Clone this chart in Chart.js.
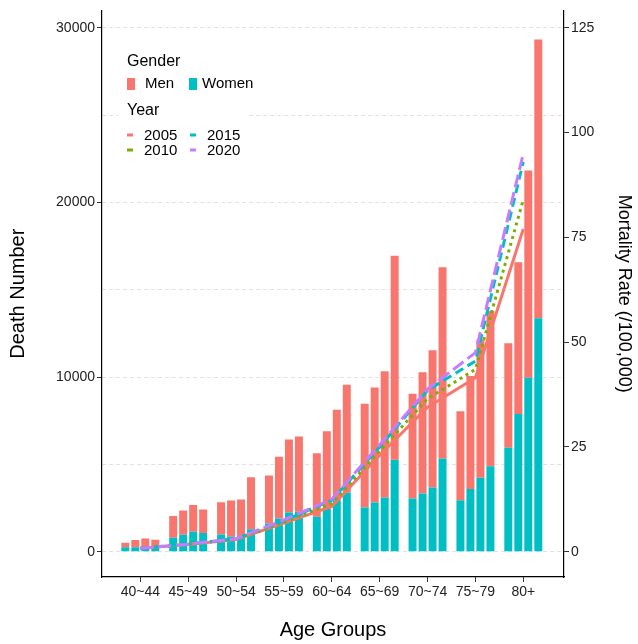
<!DOCTYPE html>
<html>
<head>
<meta charset="utf-8">
<script src="https://cdn.jsdelivr.net/npm/chart.js@4"></script>
<style>
html,body{margin:0;padding:0;background:#fff;}
#wrap{width:638px;height:644px;}
</style>
</head>
<body>
<div id="wrap"><canvas id="c" width="638" height="644"></canvas></div>
<script>
const ageGroups = ['40~44','45~49','50~54','55~59','60~64','65~69','70~74','75~79','80+'];
const years = ['2005','2010','2015','2020'];

const women2005 = [250, 800, 990, 1620, 2000, 2530, 3050, 2950, 5950];
const women2010 = [250, 970, 860, 1900, 2440, 2820, 3330, 3590, 7890];
const women2015 = [200, 1140, 900, 2250, 2910, 3100, 3670, 4240, 9960];
const women2020 = [230, 1070, 1280, 2280, 3390, 5260, 5330, 4890, 13370];

const men2005 = [260, 1240, 1840, 2750, 3640, 5940, 6000, 5090, 5990];
const men2010 = [420, 1390, 2070, 3540, 4460, 6590, 6940, 6470, 8690];
const men2015 = [560, 1540, 2090, 4170, 5220, 7230, 7860, 7910, 11870];
const men2020 = [450, 1350, 2980, 4320, 6170, 11690, 10960, 8900, 15960];

const rate2005 = [0.8, 1.7, 2.9, 6.8, 10.8, 23.0, 34.5, 41.5, 77.0];
const rate2010 = [0.8, 1.8, 3.0, 7.0, 11.5, 24.0, 36.5, 43.5, 84.0];
const rate2015 = [0.8, 1.8, 3.1, 7.4, 12.3, 25.0, 38.5, 45.5, 93.0];
const rate2020 = [0.8, 1.8, 3.1, 7.6, 12.5, 25.5, 38.8, 47.5, 95.0];

const leftTicks = [0, 5000, 10000, 15000, 20000, 25000, 30000];
const rightTicks = [0, 25, 50, 75, 100, 125];

const MEN = '#F8766D', WOMEN = '#00BFC4';
const lineColors = ['#F8766D', '#7CAE00', '#00BFC4', '#C77CFF'];
const lineDashes = [[], [3, 4], [9, 5], [13, 5]];
const FONT = "'Liberation Sans', Arial, sans-serif";

const womenAll = [women2005, women2010, women2015, women2020];
const menAll = [men2005, men2010, men2015, men2020];
const rateAll = [rate2005, rate2010, rate2015, rate2020];

const toXY = arr => arr.map((v, i) => ({x: i, y: v}));

const datasets = [];
for (let k = 3; k >= 0; k--) {
  datasets.push({
    type: 'line', label: years[k], data: toXY(rateAll[k]), yAxisID: 'y1', xAxisID: 'x',
    borderColor: lineColors[k], borderWidth: 3, borderDash: lineDashes[k], borderCapStyle: 'butt',
    pointRadius: 0, tension: 0, fill: false, order: 3 - k
  });
}
for (let k = 0; k < 4; k++) {
  datasets.push({
    type: 'bar', label: 'Women ' + years[k], data: toXY(womenAll[k]), stack: 's' + years[k],
    backgroundColor: WOMEN, borderWidth: 0, yAxisID: 'y', order: 10,
    categoryPercentage: 0.835, barPercentage: 0.8
  });
  datasets.push({
    type: 'bar', label: 'Men ' + years[k], data: toXY(menAll[k]), stack: 's' + years[k],
    backgroundColor: MEN, borderWidth: 0, yAxisID: 'y', order: 10,
    categoryPercentage: 0.835, barPercentage: 0.8
  });
}

const legendPlugin = {
  id: 'customLegend',
  afterDraw(chart) {
    const ctx = chart.ctx;
    ctx.save();
    ctx.fillStyle = '#fff';
    ctx.fillRect(118, 45, 144, 52);
    ctx.fillRect(118, 97, 130, 63);
    ctx.fillStyle = '#000';
    ctx.textBaseline = 'middle';
    ctx.textAlign = 'left';
    ctx.font = '16px ' + FONT;
    ctx.fillText('Gender', 127, 62);
    ctx.fillText('Year', 127, 111);
    ctx.font = '15px ' + FONT;
    ctx.fillStyle = MEN; ctx.fillRect(127, 78, 8, 12);
    ctx.fillStyle = WOMEN; ctx.fillRect(189, 78, 8, 12);
    ctx.fillStyle = '#000';
    ctx.fillText('Men', 145, 84);
    ctx.fillText('Women', 202, 84);
    const pos = [[127, 135], [127, 150], [190, 135], [190, 150]];
    for (let k = 0; k < 4; k++) {
      const [x, y] = pos[k];
      ctx.fillStyle = lineColors[k];
      ctx.fillRect(x, y - 1.5, 6, 3);
      ctx.fillStyle = '#000';
      ctx.fillText(years[k], x + 17, y + 0.5);
    }
    ctx.restore();
  }
};

const isIdx = v => Number.isInteger(v) && v >= 0 && v < ageGroups.length;

new Chart(document.getElementById('c'), {
  data: { datasets },
  plugins: [legendPlugin],
  options: {
    responsive: false,
    animation: false,
    events: [],
    layout: { padding: { top: 8, left: 0, right: 0, bottom: 0 } },
    plugins: { legend: { display: false }, tooltip: { enabled: false } },
    scales: {
      x: {
        type: 'linear', position: 'bottom', min: -0.8, max: 8.85, offset: false,
        afterBuildTicks(s) { s.ticks = ageGroups.map((_, i) => ({value: i})); },
        afterFit(s) { s.height = 67; },
        ticks: {
          autoSkip: false, maxRotation: 0, padding: 2, color: '#222',
          font: { family: FONT, size: 14 },
          callback: v => (isIdx(v) ? ageGroups[v] : '')
        },
        grid: {
          display: true, offset: false, drawOnChartArea: false, drawTicks: true, tickLength: 5, tickWidth: 1,
          tickColor: c => (c.tick && isIdx(c.tick.value) ? '#333' : 'rgba(0,0,0,0)')
        },
        border: { display: true, color: '#000', width: 1.2 },
        title: { display: true, text: 'Age Groups', color: '#000', font: { family: FONT, size: 20 }, padding: { top: 0, bottom: 2 } }
      },
      y: {
        type: 'linear', position: 'left', stacked: true, min: -1450, max: 31000,
        afterBuildTicks(s) { s.ticks = leftTicks.map(v => ({value: v})); },
        afterFit(s) { s.width = 102; },
        ticks: {
          padding: 2, color: '#222', font: { family: FONT, size: 14 },
          callback: v => (v % 10000 === 0 ? String(v) : '')
        },
        grid: {
          display: true, drawOnChartArea: true, color: '#e2e2e2', lineWidth: 1,
          drawTicks: true, tickLength: 5, tickWidth: 1,
          tickColor: c => (c.tick && c.tick.value >= 0 && c.tick.value % 10000 === 0 ? '#333' : 'rgba(0,0,0,0)')
        },
        border: { display: true, color: '#000', width: 1.2, dash: [4, 3] },
        title: { display: true, text: 'Death Number', color: '#000', font: { family: FONT, size: 20 }, padding: { top: 6, bottom: 0 } }
      },
      y1: {
        type: 'linear', position: 'right', min: -1450 / 240, max: 31000 / 240,
        afterBuildTicks(s) { s.ticks = rightTicks.map(v => ({value: v})); },
        afterFit(s) { s.width = 74; },
        ticks: { padding: 2, color: '#222', font: { family: FONT, size: 14 }, callback: v => (rightTicks.includes(v) ? String(v) : '') },
        grid: {
          display: true, drawOnChartArea: false, drawTicks: true, tickLength: 5, tickWidth: 1,
          tickColor: c => (c.tick && rightTicks.includes(c.tick.value) ? '#333' : 'rgba(0,0,0,0)')
        },
        border: { display: true, color: '#000', width: 1.2 },
        title: { display: true, text: 'Mortality Rate (/100,000)', color: '#000', font: { family: FONT, size: 18 }, padding: { top: 3, bottom: 0 } }
      }
    }
  }
});
</script>
</body>
</html>
